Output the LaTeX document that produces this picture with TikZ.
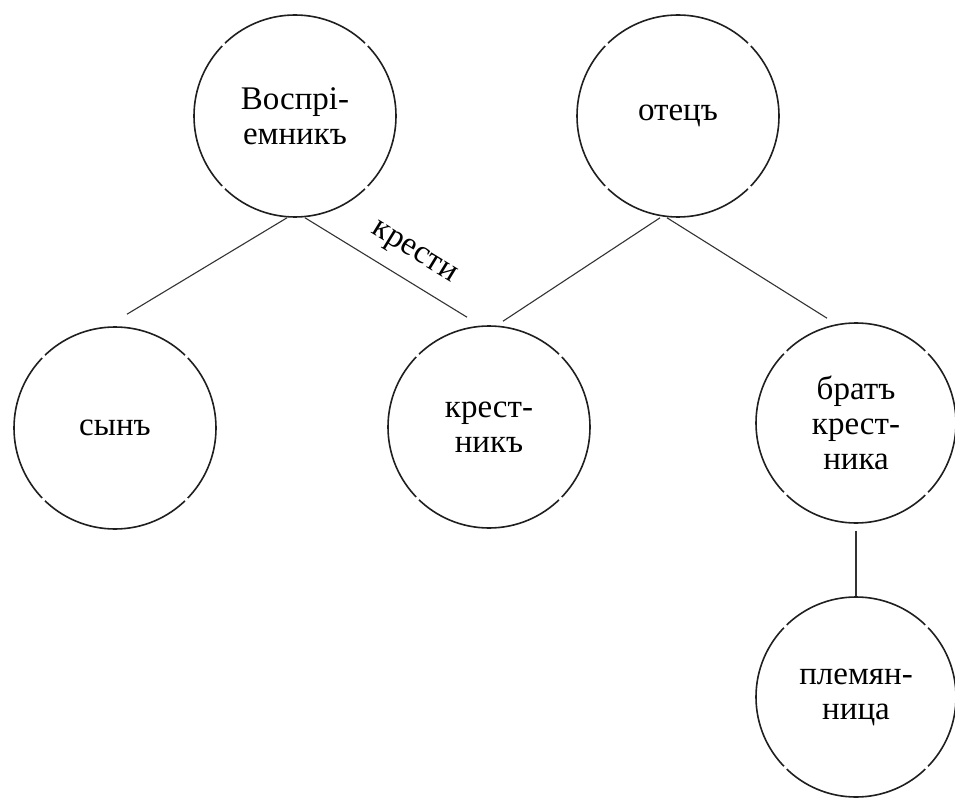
\documentclass[tikz,border=0pt]{standalone}
\usepackage{fontspec}
\setmainfont{Liberation Serif}
\begin{document}
\begin{tikzpicture}[x=1pt,y=-1pt,
  circA/.style={circle, draw=black!88, line width=1.6pt, minimum size=202pt, inner sep=0pt,
    align=center, font=\fontsize{33}{35}\selectfont,
    dash pattern=on 154.65pt off 4pt, dash phase=77.35pt},
  circB/.style={circA, minimum size=200pt, dash pattern=on 153.08pt off 4pt, dash phase=76.5pt},
  conn/.style={draw=black!80, line width=1.1pt},
  lbl/.style={font=\fontsize{33}{35}\selectfont, inner sep=0pt}]
\useasboundingbox (0,0) rectangle (955,799);
\fill[white] (0,0) rectangle (955,799);
\node[circA] (vosp) at (295,116) {Воспрі-\\емникъ};
\node[circA] (otec) at (678,116) {отецъ};
\node[circA] (syn)  at (115,428) {сынъ};
\node[circA] (kr)   at (489,427) {крест-\\никъ};
\node[circB] (brat) at (856,423) {братъ\\крест-\\ника};
\node[circB] (plem) at (856,697) {племян-\\ница};
\draw[conn] ([xshift=-8pt]vosp.south) -- ([shift={(12pt,12pt)}]syn.north);
\draw[conn] ([xshift=10pt]vosp.south) -- ([shift={(-22pt,8pt)}]kr.north);
\draw[conn] ([xshift=-18pt]otec.south) -- ([shift={(14pt,4pt)}]kr.north);
\draw[conn] ([xshift=-11pt]otec.south) -- ([shift={(-29pt,4pt)}]brat.north);
\draw[conn] ([yshift=-7pt]brat.south) -- (plem.north);
\node[lbl, rotate=-31.5] (kresti) at (413,254) {крести};
\end{tikzpicture}
\end{document}
